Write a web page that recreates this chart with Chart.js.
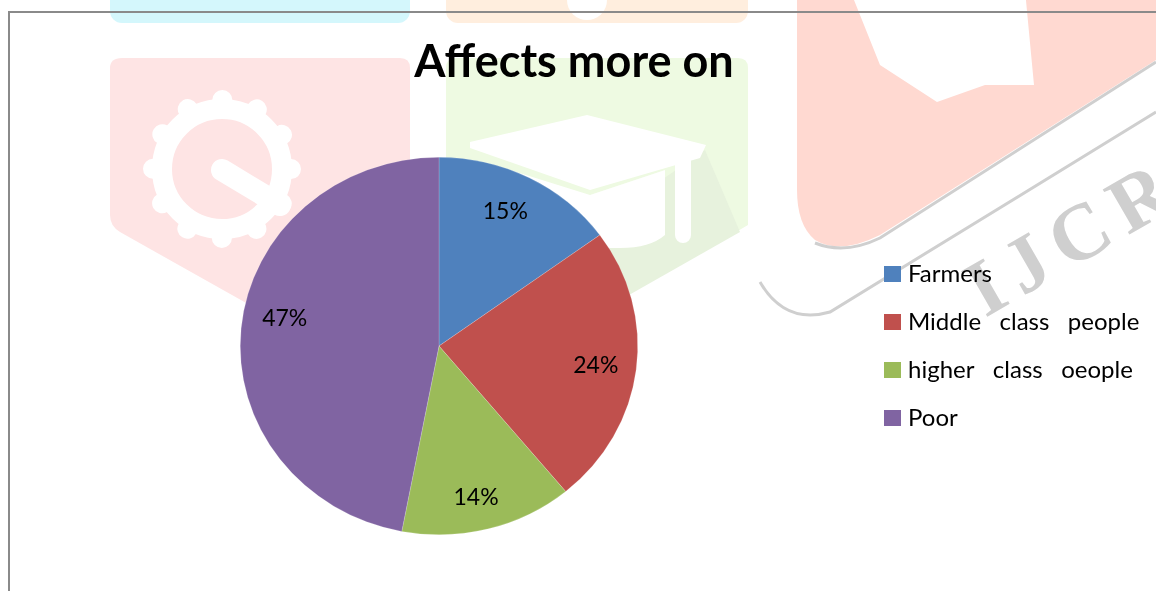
<!DOCTYPE html>
<html>
<head>
<meta charset="utf-8">
<style>
  body { margin: 0; background: #fff; overflow: hidden; }
  #wm, canvas { position: absolute; left: 0; top: 0; }
</style>
<script src="https://cdn.jsdelivr.net/npm/chart.js@4"></script>
</head>
<body>
<!-- faint page watermark that sits behind the chart in the original -->
<svg id="wm" width="1156" height="591">
  <rect x="110" y="-40" width="300" height="63" rx="12" fill="#d4f7fc"/>
  <rect x="446" y="-40" width="302" height="63" rx="12" fill="#ffeede"/>
  <circle cx="587" cy="0" r="20" fill="#fff"/>
  <path d="M122 58H400Q410 58 410 68V225L262 312L120 232Q110 226 110 215V68Q110 58 122 58Z" fill="#fee4e4"/>
  <path d="M456 58H738Q748 58 748 68V225L592 316L446 232V68Q446 58 456 58Z" fill="#eefae2"/>
  <path d="M705 150L740 232L592 316L560 250Z" fill="#e7f2dd"/>
  <g fill="none" stroke="#fff">
    <circle cx="222" cy="169" r="60" stroke-width="20"/>
    <circle cx="222" cy="169" r="69" stroke-width="20" stroke-linecap="round" stroke-dasharray="0.1 36"/>
    <path d="M222 170L280 205" stroke-width="22" stroke-linecap="round"/>
  </g>
  <path d="M470 142L587 115L706 145L700 158L590 190L470 148Z" fill="#fff"/>
  <path d="M510 170L590 195L665 170V235Q650 248 620 248H540L510 235Z" fill="#fff"/>
  <path d="M683 160V235" stroke="#fff" stroke-width="16" stroke-linecap="round"/>
  <path d="M797 -10H1156V60L880 235Q840 255 815 240Q797 225 797 190Z" fill="#ffd9d1"/>
  <path d="M850 -10H1025L1034 85H985L937 102L880 65Z" fill="#fff"/>
  <g fill="none" stroke="#cfcfcf">
    <path d="M815 243Q845 255 880 238L1156 62" stroke-width="3"/>
    <path d="M760 282Q785 325 830 312L1156 112" stroke-width="3"/>
  </g>
  <text transform="translate(985 318) rotate(-30)" font-family="Liberation Serif" font-weight="bold" font-size="80" letter-spacing="12" fill="#cfcfcf">IJCR</text>
  <path d="M9 591V12H1156" fill="none" stroke="#8a8a8a" stroke-width="2"/>
</svg>
<canvas id="chart" width="1156" height="591"></canvas>
<script>
var categories = ['Farmers', 'Middle class people', 'higher class oeople', 'Poor'];
var shares = [15, 24, 14, 47];
var colors = ['#4f81bd', '#c0504d', '#9bbb59', '#8064a2'];

var FONT = 'Lato';
var STRETCH_X = 199 / 189; // pie is slightly wider than tall in the original

// squashes the pie into the ellipse of the original
var ellipsePlugin = {
    id: 'ellipse',
    beforeDatasetsDraw: function (chart) {
        var arc = chart.getDatasetMeta(0).data[0];
        var ctx = chart.ctx;
        ctx.save();
        ctx.translate(arc.x, arc.y);
        ctx.scale(STRETCH_X, 1);
        ctx.translate(-arc.x, -arc.y);
    },
    afterDatasetsDraw: function (chart) {
        chart.ctx.restore();
    }
};

// ====Percent labels inside the slices====
var percentPlugin = {
    id: 'percentLabels',
    afterDatasetsDraw: function (chart) {
        var nudges = [[-5, -2], [1, 1], [-2, 7], [2, -13]];
        var ctx = chart.ctx;
        ctx.save();
        ctx.font = '23px ' + FONT;
        ctx.fillStyle = '#000';
        ctx.textAlign = 'center';
        ctx.textBaseline = 'middle';
        chart.getDatasetMeta(0).data.forEach(function (arc, i) {
            var mid = (arc.startAngle + arc.endAngle) / 2;
            var r = arc.outerRadius * 0.79;
            ctx.fillText(shares[i] + '%',
                arc.x + Math.cos(mid) * r * STRETCH_X + nudges[i][0],
                arc.y + Math.sin(mid) * r + nudges[i][1]);
        });
        ctx.restore();
    }
};

// legend column has a fixed width, its text is spread out like the justified original
var legendWidthPlugin = {
    id: 'legendWidth',
    beforeInit: function (chart) {
        var legend = chart.legend;
        var fit = legend.fit;
        var draw = legend.draw;
        legend.fit = function () {
            fit.call(this);
            this.width = 270;
        };
        // legend clips to its box, let the long rows run past it
        legend.draw = function () {
            var right = this.right;
            this.right = chart.width;
            draw.call(this);
            this.right = right;
        };
    }
};

var pieChart = new Chart(document.getElementById('chart').getContext('2d'), {
    type: 'pie',
    data: {
        labels: categories,
        datasets: [{
            data: shares,
            backgroundColor: colors,
            borderColor: 'rgba(255,255,255,0.35)',
            borderWidth: 0.5
        }]
    },
    options: {
        responsive: false,
        animation: false,
        layout: { padding: { left: 13, right: 21, bottom: 56 } },
        plugins: {
            tooltip: { enabled: false },
            title: {
                display: true,
                text: 'Affects more on',
                color: '#000',
                font: { family: FONT, size: 45, weight: 'bold', lineHeight: 1.2 },
                padding: { top: 35, bottom: 68 }
            },
            legend: {
                position: 'right',
                fullSize: false,
                labels: {
                    color: '#000',
                    font: { family: FONT, size: 24 },
                    boxWidth: 7,
                    boxHeight: 6,
                    padding: 24,
                    generateLabels: function (chart) {
                        return Chart.overrides.pie.plugins.legend.labels.generateLabels(chart).map(function (item) {
                            item.text = item.text.replace(/ /g, '   ');
                            item.strokeStyle = item.fillStyle;
                            item.lineWidth = 10;
                            return item;
                        });
                    }
                }
            }
        }
    },
    plugins: [legendWidthPlugin, ellipsePlugin, percentPlugin]
});
</script>
</body>
</html>
